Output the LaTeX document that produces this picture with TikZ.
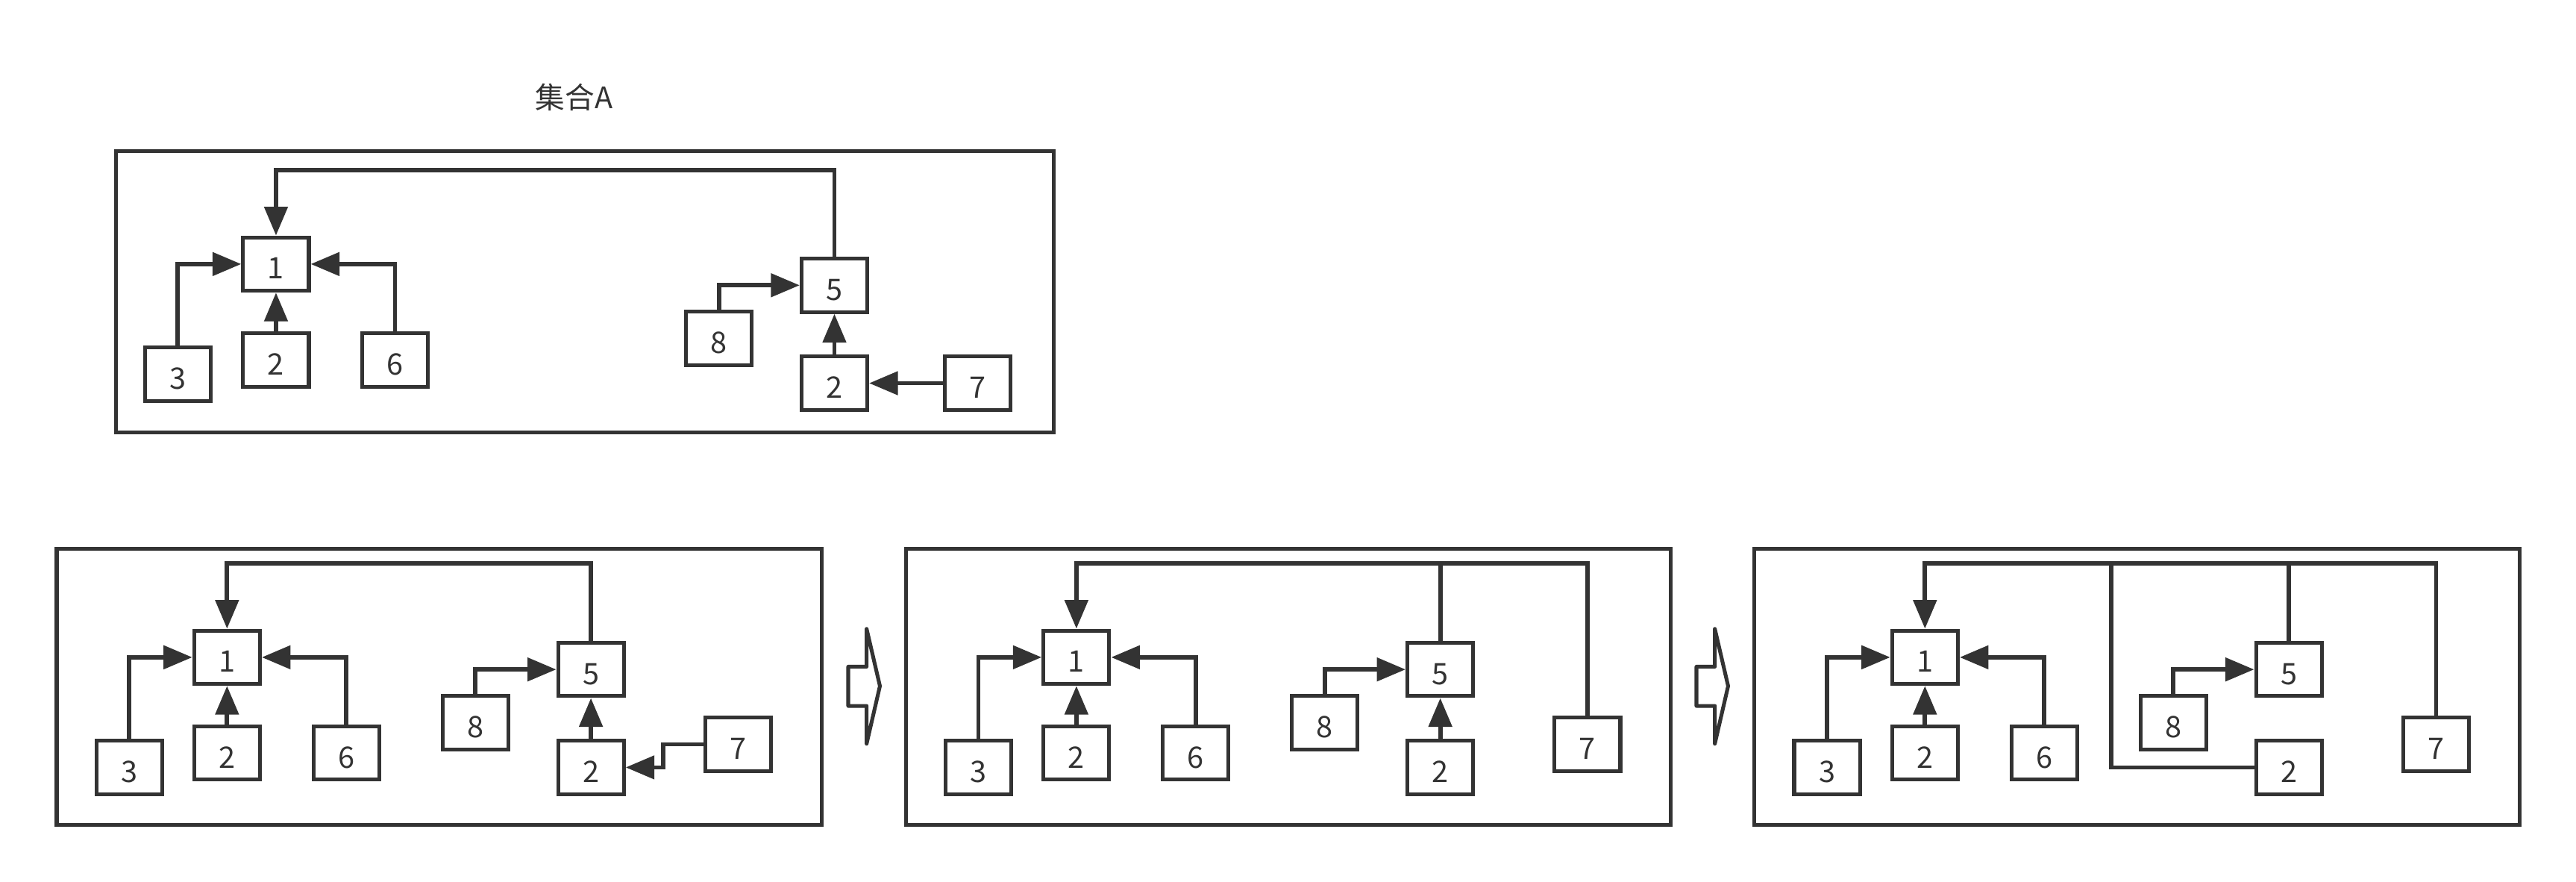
\documentclass[tikz,border=0pt]{standalone}
\usepackage{fontspec}
\setmainfont{Noto Sans CJK SC}
\usetikzlibrary{arrows.meta}
\definecolor{ink}{HTML}{333333}
\tikzset{
  box/.style={draw=ink, line width=2.3pt, minimum width=40pt, minimum height=32.5pt,
    inner sep=0pt, text=ink, font=\fontsize{18}{18}\selectfont, text height=18.2pt, text depth=0pt},
  frame/.style={draw=ink, line width=2.3pt, inner sep=0pt},
  conn/.style={draw=ink, line width=2.6pt, -{Triangle[length=17.5pt,width=14pt]}},
  plainline/.style={draw=ink, line width=2.6pt},
  hollow/.style={draw=ink, line width=2.3pt, line join=round},
  titletext/.style={text=ink, font=\fontsize{18}{18}\selectfont, inner sep=0pt},
}
\newcommand\mybottompanel[2]{%
  \begin{scope}[xshift=#2pt]
    \node[frame, minimum width=465.5pt, minimum height=168.2pt] (#1frame) at (267.25,-417.9) {};
    \node[box] (#1one) at (138.2,-400) {1};
    \node[box] (#1three) at (78.6,-467) {3};
    \node[box] (#1two) at (138.2,-458.2) {2};
    \node[box] (#1six) at (210.8,-458.2) {6};
    \node[box] (#1eight) at (289.4,-439.7) {8};
    \node[box] (#1five) at (359.7,-407.4) {5};
    \node[box] (#1twob) at (359.7,-467) {2};
    \node[box] (#1seven) at (449.3,-452.9) {7};
    \coordinate (#1top) at (138.2,-342.8);
    \draw[conn] (#1three.north) |- (#1one.west);
    \draw[conn] (#1six.north) |- (#1one.east);
    \draw[conn] (#1two.north) -- (#1one.south);
    \draw[conn] (#1eight.north) |- (#1five.west);
  \end{scope}}
\begin{document}
\begin{tikzpicture}[x=1pt,y=1pt]
  \useasboundingbox (0,0) rectangle (1568,-536.74);
  % ---------- top panel: set A ----------
  \node[titletext] (title) at (349.5,-59) {集合A};
  \node[frame, minimum width=570.8pt, minimum height=171pt] (aframe) at (355.9,-177.5) {};
  \node[box] (aone) at (168,-160.7) {1};
  \node[box] (athree) at (108.2,-227.7) {3};
  \node[box] (atwo) at (168,-219) {2};
  \node[box] (asix) at (240.4,-219) {6};
  \node[box] (afive) at (507.9,-173.6) {5};
  \node[box] (aeight) at (437.7,-206) {8};
  \node[box] (atwob) at (507.9,-233.2) {2};
  \node[box] (aseven) at (595.2,-233.2) {7};
  \coordinate (atop) at (168,-103.4);
  \draw[conn] (athree.north) |- (aone.west);
  \draw[conn] (asix.north) |- (aone.east);
  \draw[conn] (atwo.north) -- (aone.south);
  \draw[conn] (aeight.north) |- (afive.west);
  \draw[conn] (atwob.north) -- (afive.south);
  \draw[conn] (aseven.west) -- (atwob.east);
  \draw[conn] (afive.north) |- (atop) -- (aone.north);
  % ---------- bottom panels ----------
  \mybottompanel{p1}{0}
  \mybottompanel{p2}{517}
  \mybottompanel{p3}{1033.5}
  % panel 1
  \draw[conn] (p1five.north) |- (p1top) -- (p1one.north);
  \draw[conn] (p1twob.north) -- (p1five.south);
  \draw[conn] (p1seven.west) -- ++(-24.6,0) |- (p1twob.east);
  % panel 2
  \draw[conn] (p2seven.north) |- (p2top) -- (p2one.north);
  \draw[plainline] (p2five.north) -- (p2five.north |- p2top);
  \draw[conn] (p2twob.north) -- (p2five.south);
  % panel 3
  \draw[conn] (p3seven.north) |- (p3top) -- (p3one.north);
  \draw[plainline] (p3five.north) -- (p3five.north |- p3top);
  \coordinate (p3brtop) at (1285,-342.8);
  \draw[plainline] (p3twob.west) -| (p3brtop);
  % ---------- hollow arrows between panels ----------
  \draw[hollow] (516.3,-405.7) -- (527.5,-405.7) -- (527.5,-382.7) -- (535.6,-417.5)
     -- (527.5,-452.6) -- (527.5,-429.6) -- (516.3,-429.6) -- cycle;
  \draw[hollow] (1032.6,-405.7) -- (1043.8,-405.7) -- (1043.8,-382.7) -- (1051.9,-417.5)
     -- (1043.8,-452.6) -- (1043.8,-429.6) -- (1032.6,-429.6) -- cycle;
\end{tikzpicture}
\end{document}
